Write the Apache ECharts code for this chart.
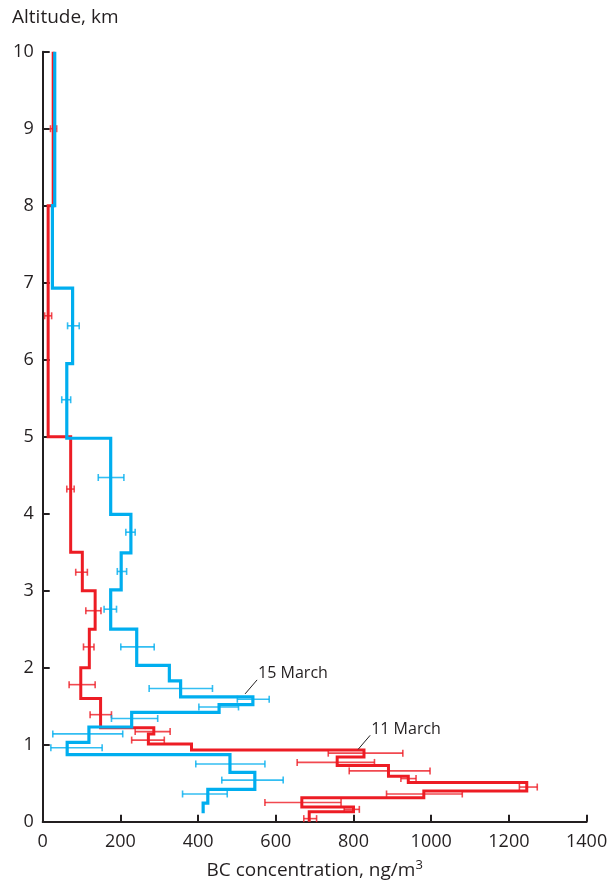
<!DOCTYPE html>
<html>
<head>
<meta charset="utf-8">
<script src="https://cdn.jsdelivr.net/npm/echarts@6/dist/echarts.min.js"></script>
<style>
  html, body { margin: 0; padding: 0; background: #fff; }
  #chart { width: 610px; height: 882px; }
</style>
</head>
<body>
<div id="chart"></div>
<script>
// Axis ticks
const xTicks = [0, 200, 400, 600, 800, 1000, 1200, 1400];
const yTicks = [0, 1, 2, 3, 4, 5, 6, 7, 8, 9, 10];

// 11 March profile: layer edges (km, top to bottom) and BC per layer (ng/m3)
const march11Edges = [10, 8, 5, 3.5, 3.0, 2.5, 2.0, 1.6, 1.22, 1.14, 1.01, 0.93, 0.84, 0.73, 0.59, 0.51, 0.40, 0.31, 0.19, 0.13, 0];
const march11BC = [27, 14, 72, 102, 135, 120, 98, 149, 286, 272, 383, 827, 758, 890, 941, 1246, 981, 667, 800, 686];

// 11 March error bars: altitude, low, high
const march11ErrAlt = [9.0, 6.57, 4.32, 3.24, 2.74, 2.27, 1.78, 1.39, 1.17, 1.06, 0.89, 0.77, 0.66, 0.56, 0.45, 0.36, 0.25, 0.16, 0.04];
const march11ErrLo = [20, 5, 62, 85, 111, 105, 68, 122, 238, 229, 735, 655, 789, 922, 1227, 885, 572, 776, 672];
const march11ErrHi = [36, 23, 81, 115, 150, 132, 135, 177, 328, 313, 927, 854, 997, 961, 1273, 1080, 768, 815, 705];

// 15 March profile
const march15Edges = [10, 8, 6.93, 5.95, 4.98, 3.99, 3.49, 3.01, 2.50, 2.03, 1.83, 1.62, 1.52, 1.42, 1.23, 1.03, 0.87, 0.64, 0.42, 0.24, 0.11];
const march15BC = [31, 25, 77, 62, 175, 227, 202, 175, 242, 326, 355, 541, 454, 229, 119, 63, 482, 546, 425, 413];

// 15 March error bars
const march15ErrAlt = [6.44, 5.48, 4.47, 3.76, 3.25, 2.76, 2.27, 1.73, 1.59, 1.49, 1.34, 1.14, 0.96, 0.75, 0.54, 0.36];
const march15ErrLo = [64, 49, 143, 214, 192, 158, 201, 274, 501, 402, 177, 26, 21, 394, 461, 360];
const march15ErrHi = [94, 72, 209, 238, 216, 190, 287, 437, 583, 504, 296, 206, 153, 572, 619, 475];

// Curve labels: anchor point (BC, km) and text
const labelNames = ['15 March', '11 March'];
const labelBC = [521, 812];
const labelAlt = [1.66, 0.94];

const RED = '#ED1C24';
const BLUE = '#00AEEF';
const INK = '#231F20';
const FONT = '"Open Sans", sans-serif';

function stepPath(edges, values) {
  const pts = [];
  for (let i = 0; i < values.length; i++) {
    pts.push([values[i], edges[i]]);
    pts.push([values[i], edges[i + 1]]);
  }
  return pts;
}

function errData(alt, lo, hi) {
  return alt.map((a, i) => [a, lo[i], hi[i]]);
}

function errRenderer(color) {
  return function (params, api) {
    const a = api.value(0);
    const p1 = api.coord([api.value(1), a]);
    const p2 = api.coord([api.value(2), a]);
    const h = 3.5;
    const style = { stroke: color, lineWidth: 1.6, opacity: 0.8 };
    return {
      type: 'group',
      children: [
        { type: 'line', shape: { x1: p1[0], y1: p1[1], x2: p2[0], y2: p2[1] }, style },
        { type: 'line', shape: { x1: p1[0], y1: p1[1] - h, x2: p1[0], y2: p1[1] + h }, style },
        { type: 'line', shape: { x1: p2[0], y1: p2[1] - h, x2: p2[0], y2: p2[1] + h }, style }
      ]
    };
  };
}

const chart = echarts.init(document.getElementById('chart'));

chart.setOption({
  animation: false,
  backgroundColor: '#fff',
  grid: { left: 42.7, right: 23.4, top: 51.7, bottom: 60.3, containLabel: false, outerBoundsMode: 'none' },
  xAxis: {
    type: 'value',
    min: xTicks[0],
    max: xTicks[xTicks.length - 1],
    interval: xTicks[1] - xTicks[0],
    splitLine: { show: false },
    axisLine: { lineStyle: { color: INK, width: 2 } },
    axisTick: { inside: true, length: 7, lineStyle: { color: INK, width: 2 } },
    axisLabel: { color: INK, fontFamily: FONT, fontSize: 18, margin: 11, formatter: v => String(v) },
    name: 'BC concentration, ng/m{sup|3}',
    nameLocation: 'middle',
    nameGap: 37,
    nameTextStyle: {
      color: INK, fontFamily: FONT, fontSize: 19,
      rich: { sup: { color: INK, fontFamily: FONT, fontSize: 13, verticalAlign: 'top', padding: [0, 0, 10, 0] } }
    }
  },
  yAxis: {
    type: 'value',
    min: yTicks[0],
    max: yTicks[yTicks.length - 1],
    interval: 1,
    splitLine: { show: false },
    axisLine: { lineStyle: { color: INK, width: 2 } },
    axisTick: { inside: true, length: 7, lineStyle: { color: INK, width: 2 } },
    axisLabel: { color: INK, fontFamily: FONT, fontSize: 18, margin: 9, formatter: v => String(v) }
  },
  graphic: [
    { type: 'text', left: 12, top: 8, style: { text: 'Altitude, km', fill: INK, font: '19px ' + FONT } }
  ],
  series: [
    {
      type: 'line', z: 3,
      data: stepPath(march11Edges, march11BC),
      showSymbol: false, symbol: 'none',
      lineStyle: { color: RED, width: 3, join: 'miter' }
    },
    {
      type: 'custom', z: 4,
      renderItem: errRenderer(RED),
      encode: { x: [1, 2], y: 0 },
      data: errData(march11ErrAlt, march11ErrLo, march11ErrHi)
    },
    {
      type: 'line', z: 5,
      data: stepPath(march15Edges, march15BC),
      showSymbol: false, symbol: 'none',
      lineStyle: { color: BLUE, width: 3.2, join: 'miter' }
    },
    {
      type: 'custom', z: 6,
      renderItem: errRenderer(BLUE),
      encode: { x: [1, 2], y: 0 },
      data: errData(march15ErrAlt, march15ErrLo, march15ErrHi)
    },
    {
      type: 'custom', z: 7,
      encode: { x: 0, y: 1 },
      data: labelBC.map((v, i) => [v, labelAlt[i], i]),
      renderItem: function (params, api) {
        const p = api.coord([api.value(0), api.value(1)]);
        const end = [p[0] + 12, p[1] - 14];
        return {
          type: 'group',
          children: [
            { type: 'line', shape: { x1: p[0], y1: p[1], x2: end[0], y2: end[1] }, style: { stroke: INK, lineWidth: 1 } },
            { type: 'text', style: { text: labelNames[api.value(2)], x: end[0] + 1, y: end[1] + 2, textAlign: 'left', textVerticalAlign: 'bottom', fill: INK, font: '16px ' + FONT } }
          ]
        };
      }
    }
  ]
});
</script>
</body>
</html>
